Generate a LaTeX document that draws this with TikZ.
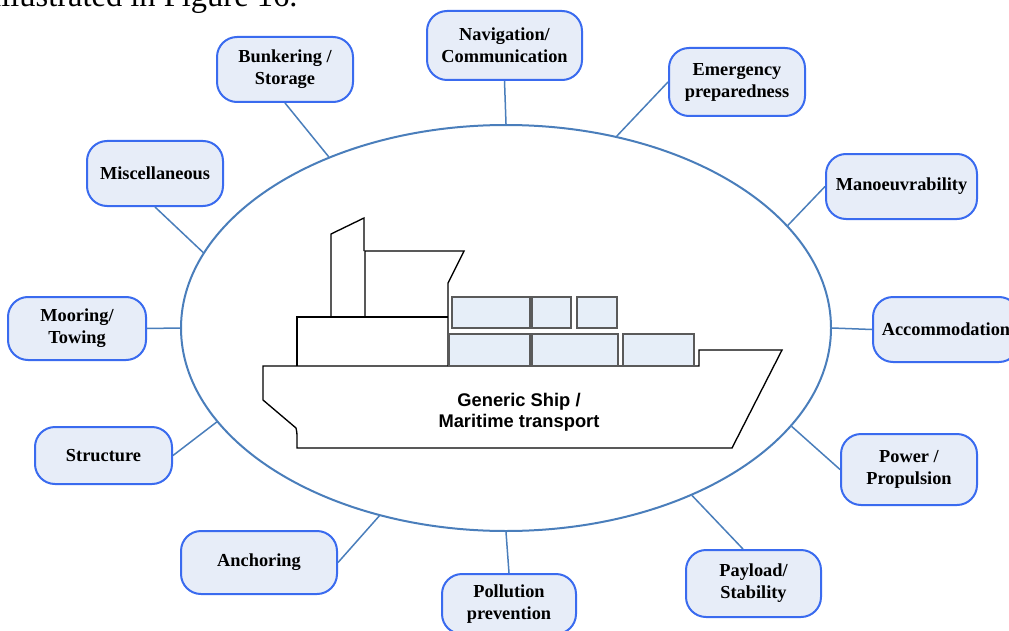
\documentclass[tikz,border=0pt]{standalone}
\usepackage{fontspec}
\setmainfont{Liberation Serif}
\newfontfamily\shipfont{Liberation Sans}
\usetikzlibrary{shapes.geometric}
\definecolor{edge}{HTML}{3A6BEF}
\definecolor{fillb}{HTML}{E7EDF8}
\definecolor{linkblue}{HTML}{4A7EBB}
\definecolor{crate}{HTML}{E6EEF8}
\definecolor{crateedge}{HTML}{5A5A5A}
\tikzset{
  topic/.style={draw=edge, fill=fillb, line width=1.2pt, rounded corners=12pt,
    align=center, inner sep=0pt, font=\fontsize{11}{13.2}\selectfont\bfseries},
  pair/.style={topic, execute at begin node={\rule{0pt}{10.5pt}}},
  link/.style={draw=linkblue, line width=0.9pt},
  hull/.style={draw=black, line width=0.8pt, line join=miter},
  crates/.style={draw=crateedge, fill=crate, line width=0.8pt}
}
\begin{document}
\begin{tikzpicture}[x=0.6pt, y=-0.6pt]
  \useasboundingbox (0,0) rectangle (1009,630);
  \clip (0,0) rectangle (1009,630);

  \node[anchor=base west, inner sep=0pt, font=\fontsize{19.5}{22}\selectfont] (intro) at (-8,7) {illustrated in Figure 16.};

  \node[ellipse, draw=linkblue, line width=1.2pt, minimum width=390pt, minimum height=243.6pt, inner sep=0pt] (ship) at (506,328) {};

  % hull
  \draw[hull] (263,366) -- (699,366) -- (699,350) -- (782,350) -- (732,448) -- (297,448)
    -- (297,440) .. controls (297,433) .. (296,428) -- (263,400) -- cycle;
  % bridge and funnel
  \draw[hull] (297,366) -- (297,317) -- (448,317);
  \draw[hull] (448,366) -- (448,283) -- (464,251) -- (365,251) -- (365,317);
  \draw[hull] (331,317) -- (331,234) -- (364,218) -- (364,251);
  % containers
  \foreach \xa/\xb/\ya/\yb in {452/530/297/328, 532/571/297/328, 577/617/297/328,
    449/530/334/366, 532/618/334/366, 623/694/334/366}
    \draw[crates] (\xa,\ya) rectangle (\xb,\yb);

  \node[font=\shipfont\bfseries\fontsize{11}{12.6}\selectfont, align=center] (label) at (519,412) {Generic Ship /\\Maritime transport};

  % topics
  \node[pair, minimum width=93pt, minimum height=41.4pt] (nav) at (504.5,45.5) {Navigation/\\Communication};
  \node[pair, minimum width=81.6pt, minimum height=39pt] (bunk) at (285,69.5) {Bunkering /\\Storage};
  \node[pair, minimum width=81.6pt, minimum height=40.8pt] (emerg) at (737,82) {Emergency\\preparedness};
  \node[topic, minimum width=90.6pt, minimum height=39pt] (manoeuv) at (901.5,186.5) {Manoeuvrability};
  \node[topic, minimum width=87.6pt, minimum height=39pt] (accom) at (946,329.5) {Accommodation};
  \node[pair, minimum width=81.6pt, minimum height=42.6pt] (power) at (909,469.5) {Power /\\Propulsion};
  \node[pair, minimum width=81pt, minimum height=40.2pt] (payload) at (753.5,583.5) {Payload/\\Stability};
  \node[pair, minimum width=80.4pt, minimum height=36pt] (pollution) at (509,604) {Pollution\\prevention};
  \node[topic, minimum width=93.6pt, minimum height=37.8pt] (anchoring) at (259,562.5) {Anchoring};
  \node[topic, minimum width=82.2pt, minimum height=34.2pt] (structure) at (103.5,455.5) {Structure};
  \node[pair, minimum width=82.8pt, minimum height=37.8pt] (mooring) at (77,328.5) {Mooring/\\Towing};
  \node[topic, minimum width=81.6pt, minimum height=39pt] (misc) at (155,173.5) {Miscellaneous};

  \draw[link] (nav.south) -- (ship.90);
  \draw[link] (bunk.south) -- (ship.136.6);
  \draw[link] (emerg.west) -- (ship.60.3);
  \draw[link] (manoeuv.west) -- (ship.20.8);
  \draw[link] (accom.west) -- (ship.0);
  \draw[link] (power.west) -- (ship.341.3);
  \draw[link] (payload.107) -- (ship.318.7);
  \draw[link] (pollution.north) -- (ship.270);
  \draw[link] (anchoring.east) -- (ship.236.2);
  \draw[link] (structure.east) -- (ship.198.3);
  \draw[link] (mooring.east) -- (ship.180);
  \draw[link] (misc.south) -- (ship.166.1);
\end{tikzpicture}
\end{document}
